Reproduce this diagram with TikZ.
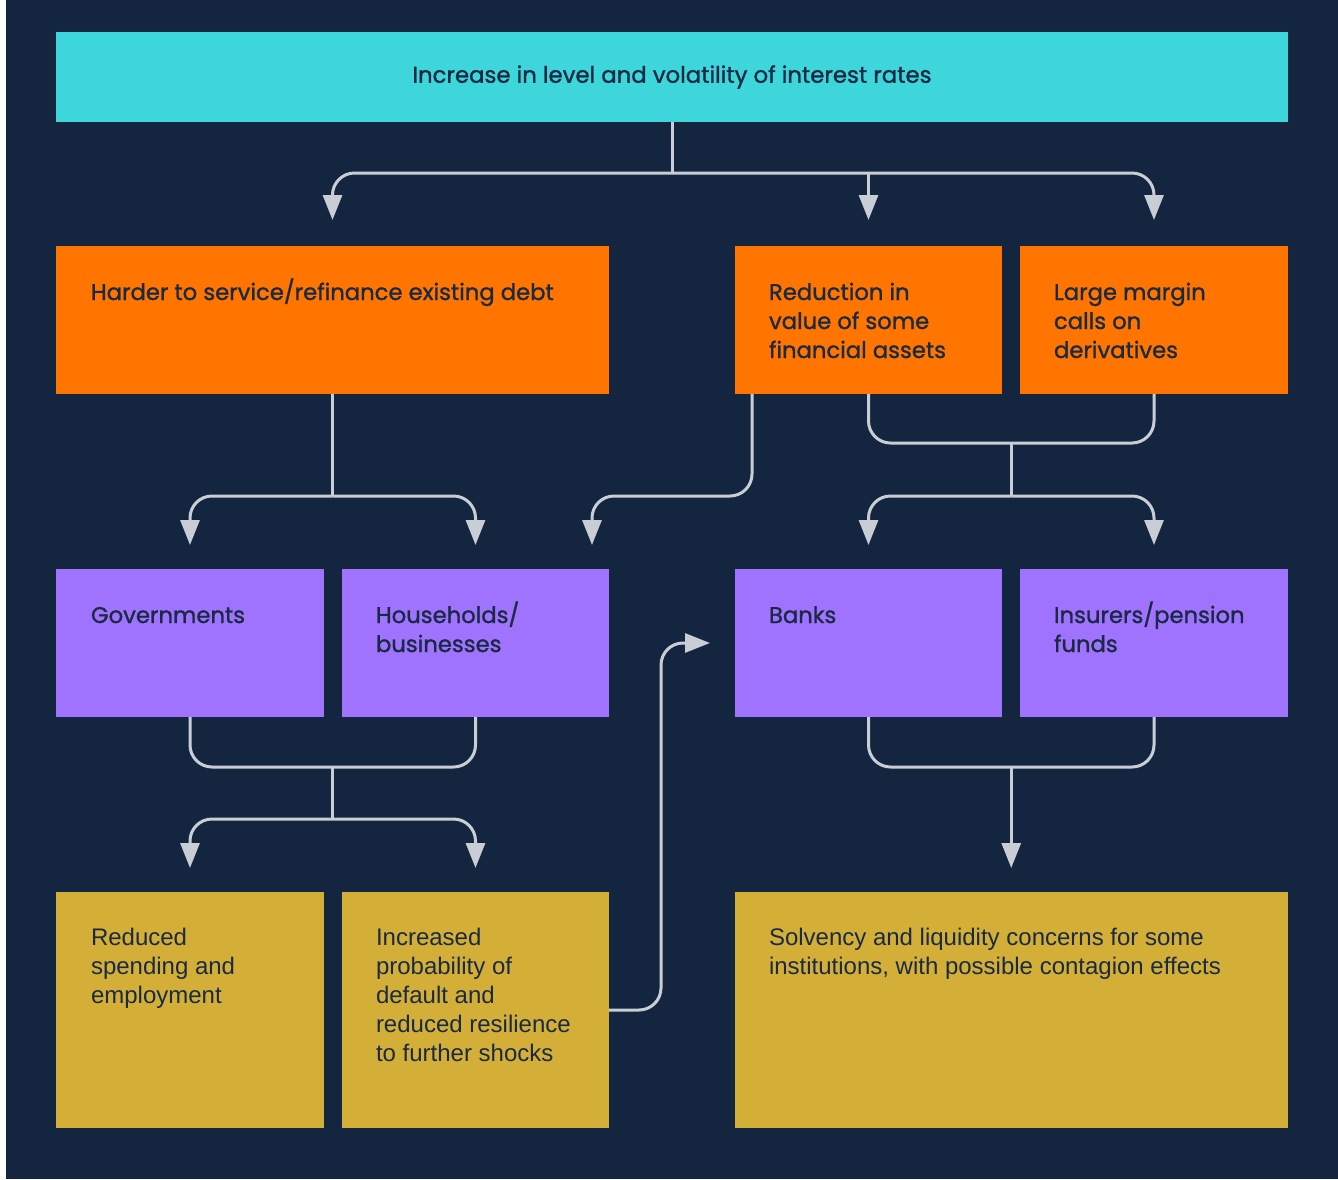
\documentclass[tikz,border=0pt]{standalone}
\usepackage{fontspec}
\setmainfont{Liberation Sans}
\newfontfamily\headfont[FakeBold=1.2]{Poppins}
\usetikzlibrary{arrows.meta,calc,positioning}
\definecolor{bgnavy}{HTML}{14263F}
\definecolor{cyanbox}{HTML}{3DD7DB}
\definecolor{orangebox}{HTML}{FF7500}
\definecolor{purplebox}{HTML}{A073FF}
\definecolor{goldbox}{HTML}{D4AF37}
\definecolor{connc}{HTML}{C9CED6}
\definecolor{txtc}{HTML}{1A2A44}
\newcommand{\headtext}[2]{\parbox[t]{#1pt}{\raggedright\headfont\fontsize{22.7}{29}\selectfont #2}}
\newcommand{\bodytext}[2]{\parbox[t]{#1pt}{\raggedright\fontsize{24}{29}\selectfont #2}}
\tikzset{
  box/.style={draw=none, inner sep=0pt, outer sep=0pt, anchor=north west},
  lbl/.style={inner sep=0pt, outer sep=0pt, anchor=base west, text=txtc},
  cline/.style={draw=connc, line width=3pt},
  carr/.style={cline, -{Triangle[width=19pt,length=25pt]}},
  rc/.style={rounded corners=22pt}
}
\begin{document}
\begin{tikzpicture}[x=1pt,y=-1pt]
\useasboundingbox (0,0) rectangle (1338,1179);
\fill[white] (0,0) rectangle (1338,1179);
\fill[bgnavy] (6,0) rectangle (1338,1179);

% top
\node[box, fill=cyanbox, minimum width=1232pt, minimum height=90pt] (T) at (56,32) {};
\node[text=txtc, inner sep=0pt] (Tl) at (T.center) {\headfont\fontsize{22.8}{29}\selectfont Increase in level and volatility of interest rates};

% row 2
\node[box, fill=orangebox, minimum width=553pt, minimum height=148pt] (A) at (56,246) {};
\node[box, fill=orangebox, minimum width=267pt, minimum height=148pt] (B) at (735,246) {};
\node[box, fill=orangebox, minimum width=268pt, minimum height=148pt] (C) at (1020,246) {};
\node[lbl] (Al) at ($(A.north west)+(35,54)$) {\headtext{520}{Harder to service/refinance existing debt}};
\node[lbl] (Bl) at ($(B.north west)+(34,54)$) {\headtext{230}{Reduction in\\value of some\\financial assets}};
\node[lbl] (Cl) at ($(C.north west)+(34,54)$) {\headtext{230}{Large margin\\calls on\\derivatives}};

% row 3
\node[box, fill=purplebox, minimum width=268pt, minimum height=148pt] (G) at (56,569) {};
\node[box, fill=purplebox, minimum width=267pt, minimum height=148pt] (H) at (342,569) {};
\node[box, fill=purplebox, minimum width=267pt, minimum height=148pt] (K) at (735,569) {};
\node[box, fill=purplebox, minimum width=268pt, minimum height=148pt] (P) at (1020,569) {};
\node[lbl] (Gl) at ($(G.north west)+(35,54)$) {\headtext{230}{Governments}};
\node[lbl] (Hl) at ($(H.north west)+(34,54)$) {\headtext{230}{Households/\\businesses}};
\node[lbl] (Kl) at ($(K.north west)+(34,54)$) {\headtext{230}{Banks}};
\node[lbl] (Pl) at ($(P.north west)+(34,54)$) {\headtext{230}{Insurers/pension\\funds}};

% row 4
\node[box, fill=goldbox, minimum width=268pt, minimum height=236pt] (R) at (56,892) {};
\node[box, fill=goldbox, minimum width=267pt, minimum height=236pt] (I) at (342,892) {};
\node[box, fill=goldbox, minimum width=553pt, minimum height=236pt] (S) at (735,892) {};
\node[lbl] (Rl) at ($(R.north west)+(35,53)$) {\bodytext{230}{Reduced\\spending and\\employment}};
\node[lbl] (Il) at ($(I.north west)+(34,53)$) {\bodytext{230}{Increased\\probability of\\default and\\reduced resilience\\to further shocks}};
\node[lbl] (Sl) at ($(S.north west)+(34,53)$) {\bodytext{520}{Solvency and liquidity concerns for some\\institutions, with possible contagion effects}};

% connectors top -> row 2
\coordinate (j1) at ($(T.south)+(0,51)$);
\draw[cline] (T.south) -- (j1);
\draw[carr, rc] (j1) -| ($(A.north)+(0,-26)$);
\draw[carr, rc] (j1) -| ($(C.north)+(0,-26)$);
\draw[carr] (j1 -| B.north) -- ($(B.north)+(0,-26)$);

% row 2 -> row 3
\coordinate (j2) at ($(A.south)+(0,102)$);
\draw[cline] (A.south) -- (j2);
\draw[carr, rc] (j2) -| ($(G.north)+(0,-24)$);
\draw[carr, rc] (j2) -| ($(H.north)+(0,-24)$);
\coordinate (hx) at ($(H.north east)+(-17,-24)$);
\draw[carr, rc] ($(B.south west)+(17,0)$) |- (j2 -| hx) -- (hx);
\draw[cline, rc] (B.south) |- ($(C.south)+(0,49)$) -- (C.south);
\coordinate (j3) at ($(B.south)!0.5!(C.south)+(0,49)$);
\coordinate (j4) at ($(j3)+(0,53)$);
\draw[cline] (j3) -- (j4);
\draw[carr, rc] (j4) -| ($(K.north)+(0,-24)$);
\draw[carr, rc] (j4) -| ($(P.north)+(0,-24)$);

% row 3 -> row 4
\draw[cline, rc] (G.south) |- ($(H.south)+(0,50)$) -- (H.south);
\coordinate (j5) at ($(G.south)!0.5!(H.south)+(0,50)$);
\coordinate (j6) at ($(j5)+(0,52)$);
\draw[cline] (j5) -- (j6);
\draw[carr, rc] (j6) -| ($(R.north)+(0,-24)$);
\draw[carr, rc] (j6) -| ($(I.north)+(0,-24)$);
\draw[cline, rc] (K.south) |- ($(P.south)+(0,50)$) -- (P.south);
\coordinate (j7) at ($(K.south)!0.5!(P.south)+(0,50)$);
\draw[carr] (j7) -- (j7 |- {$(S.north)+(0,-24)$});

% feedback
\draw[carr, rc] (I.east) -- ++(52,0) |- ($(K.west)+(-25,0)$);
\end{tikzpicture}
\end{document}
